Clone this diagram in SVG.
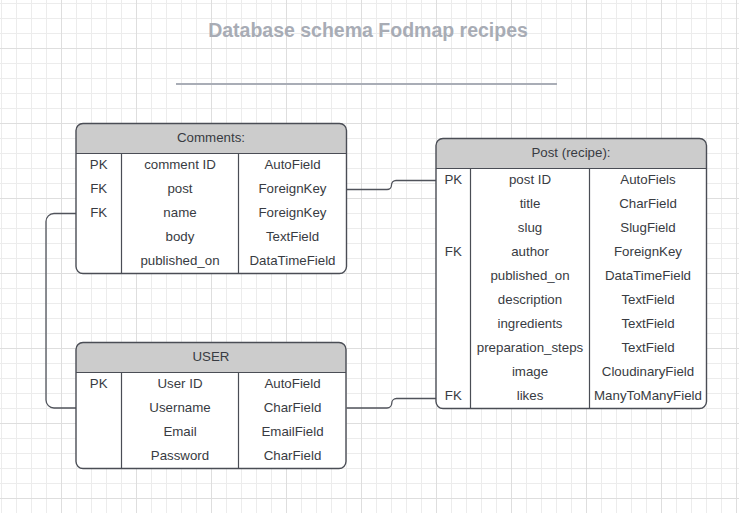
<svg xmlns="http://www.w3.org/2000/svg" width="739" height="513" viewBox="0 0 739 513">
<defs>
<pattern id="minor" patternUnits="userSpaceOnUse" x="1" y="3" width="15" height="15">
<path d="M0.5,0 V15 M0,0.5 H15" stroke="#ececec" stroke-width="1" fill="none"/>
</pattern>
<pattern id="major" patternUnits="userSpaceOnUse" x="61" y="48" width="75" height="75">
<path d="M0.5,0 V75 M0,0.5 H75" stroke="#dedede" stroke-width="1" fill="none"/>
</pattern>
<style>
.box{fill:#ffffff;stroke:none}
.hdr{fill:#cccccc;stroke:none}
.outline{fill:none;stroke:#4a4d55;stroke-width:1.4}
.div{fill:none;stroke:#4a4d55;stroke-width:1.2}
.t{font-family:"Liberation Sans",Arial,sans-serif;font-size:13.3px;fill:#383b42;text-anchor:middle}
.title{font-family:"Liberation Sans",Arial,sans-serif;font-size:19.5px;font-weight:bold;fill:#a8acb5;text-anchor:middle}
.conn{fill:none;stroke:#50535b;stroke-width:1.3}
</style>
</defs>
<rect width="739" height="513" fill="#ffffff"/>
<rect width="739" height="513" fill="url(#minor)"/>
<rect width="739" height="513" fill="url(#major)"/>

<g id="title">
<text class="title" x="368" y="36.7">Database schema Fodmap recipes</text>
<line x1="176" y1="84" x2="557" y2="84" stroke="#a9adb6" stroke-width="1.8"/>
</g>

<g id="connectors">
<path class="conn" d="M346.5,189.5 H387 A4.5,4.5 0 0 0 391.5,185 A4.5,4.5 0 0 1 396,180.5 H436"/>
<path class="conn" d="M346.5,408 H387 A4.75,4.75 0 0 0 391.75,403.25 A4.75,4.75 0 0 1 396.5,398.5 H436"/>
<path class="conn" d="M76,213.5 H54 A8,8 0 0 0 46,221.5 V400 A8,8 0 0 0 54,408 H76"/>
</g>

<g id="comments">
<rect class="box" x="76" y="123.5" width="270.5" height="150" rx="7"/>
<path class="hdr" d="M76,153.5 V130.5 A7,7 0 0 1 83,123.5 H339.5 A7,7 0 0 1 346.5,130.5 V153.5 Z"/>
<rect class="outline" x="76" y="123.5" width="270.5" height="150" rx="7"/>
<path class="div" d="M76,153.5 H346.5 M121.5,153.5 V273.5 M238.5,153.5 V273.5"/>
<text class="t" x="211" y="142">Comments:</text>
<text class="t" x="98.7" y="168.5">PK</text>
<text class="t" x="180" y="168.5">comment ID</text>
<text class="t" x="292.5" y="168.5">AutoField</text>
<text class="t" x="98.7" y="192.5">FK</text>
<text class="t" x="180" y="192.5">post</text>
<text class="t" x="292.5" y="192.5">ForeignKey</text>
<text class="t" x="98.7" y="216.5">FK</text>
<text class="t" x="180" y="216.5">name</text>
<text class="t" x="292.5" y="216.5">ForeignKey</text>
<text class="t" x="180" y="240.5">body</text>
<text class="t" x="292.5" y="240.5">TextField</text>
<text class="t" x="180" y="264.5">published_on</text>
<text class="t" x="292.5" y="264.5">DataTimeField</text>
</g>

<g id="post">
<rect class="box" x="436" y="138.5" width="270.5" height="270" rx="7"/>
<path class="hdr" d="M436,168.5 V145.5 A7,7 0 0 1 443,138.5 H699.5 A7,7 0 0 1 706.5,145.5 V168.5 Z"/>
<rect class="outline" x="436" y="138.5" width="270.5" height="270" rx="7"/>
<path class="div" d="M436,168.5 H706.5 M470.5,168.5 V408.5 M589.5,168.5 V408.5"/>
<text class="t" x="571" y="157">Post (recipe):</text>
<text class="t" x="453.3" y="183.5">PK</text>
<text class="t" x="530" y="183.5">post ID</text>
<text class="t" x="648" y="183.5">AutoFiels</text>
<text class="t" x="530" y="207.5">title</text>
<text class="t" x="648" y="207.5">CharField</text>
<text class="t" x="530" y="231.5">slug</text>
<text class="t" x="648" y="231.5">SlugField</text>
<text class="t" x="453.3" y="255.5">FK</text>
<text class="t" x="530" y="255.5">author</text>
<text class="t" x="648" y="255.5">ForeignKey</text>
<text class="t" x="530" y="279.5">published_on</text>
<text class="t" x="648" y="279.5">DataTimeField</text>
<text class="t" x="530" y="303.5">description</text>
<text class="t" x="648" y="303.5">TextField</text>
<text class="t" x="530" y="327.5">ingredients</text>
<text class="t" x="648" y="327.5">TextField</text>
<text class="t" x="530" y="351.5">preparation_steps</text>
<text class="t" x="648" y="351.5">TextField</text>
<text class="t" x="530" y="375.5">image</text>
<text class="t" x="648" y="375.5">CloudinaryField</text>
<text class="t" x="453.3" y="399.5">FK</text>
<text class="t" x="530" y="399.5">likes</text>
<text class="t" x="648" y="399.5">ManyToManyField</text>
</g>

<g id="user">
<rect class="box" x="76" y="342.5" width="270" height="126" rx="7"/>
<path class="hdr" d="M76,372.5 V349.5 A7,7 0 0 1 83,342.5 H339 A7,7 0 0 1 346,349.5 V372.5 Z"/>
<rect class="outline" x="76" y="342.5" width="270" height="126" rx="7"/>
<path class="div" d="M76,372.5 H346 M121.5,372.5 V468.5 M238.5,372.5 V468.5"/>
<text class="t" x="211" y="360.8">USER</text>
<text class="t" x="98.7" y="387.5">PK</text>
<text class="t" x="180" y="387.5">User ID</text>
<text class="t" x="292.5" y="387.5">AutoField</text>
<text class="t" x="180" y="411.5">Username</text>
<text class="t" x="292.5" y="411.5">CharField</text>
<text class="t" x="180" y="435.5">Email</text>
<text class="t" x="292.5" y="435.5">EmailField</text>
<text class="t" x="180" y="459.5">Password</text>
<text class="t" x="292.5" y="459.5">CharField</text>
</g>
</svg>
